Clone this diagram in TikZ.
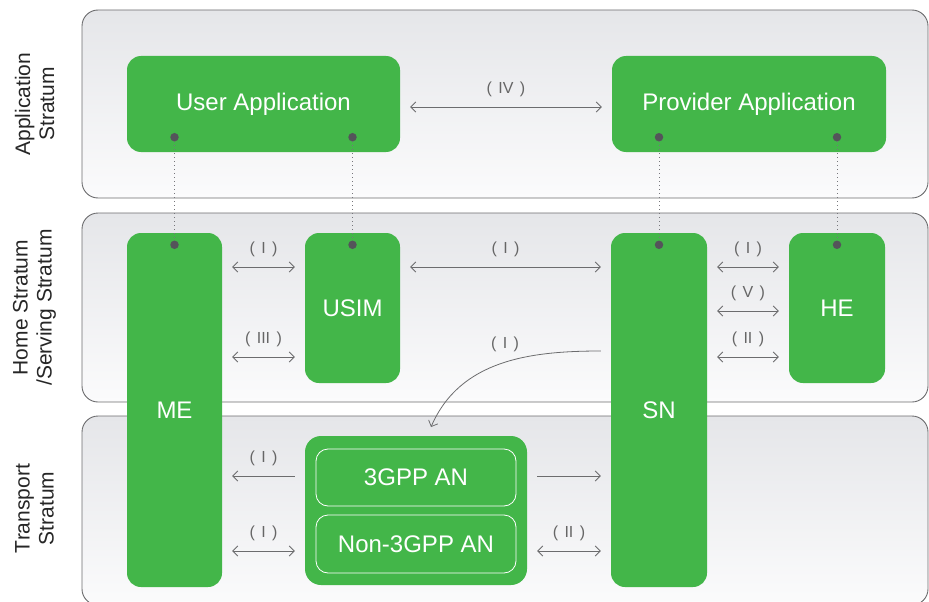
\documentclass[tikz,border=0pt]{standalone}
\usepackage{fontspec}
\setmainfont{Liberation Sans}
\usetikzlibrary{arrows.meta,calc,positioning}
\definecolor{netgreen}{RGB}{67,182,73}
\definecolor{wiregray}{RGB}{108,108,110}
\definecolor{dotgray}{RGB}{84,84,90}
\definecolor{layertop}{RGB}{229,230,233}
\definecolor{layerbot}{RGB}{251,251,252}
\newcommand{\iface}[1]{(\hspace{0.4em}#1\hspace{0.4em})}

\begin{document}
\begin{tikzpicture}[x=1pt, y=-1pt, >={Straight Barb[length=5pt,width=10pt]},
  layer/.style={draw=wiregray, line width=0.9pt, rounded corners=16pt, top color=layertop,
    bottom color=layerbot, minimum width=846pt, inner sep=0pt},
  layername/.style={rotate=90, align=center, font=\fontsize{21}{24}\selectfont, text=black!85},
  unit/.style={fill=netgreen, rounded corners=14pt, text=white, font=\fontsize{24}{28}\selectfont, inner sep=0pt},
  subunit/.style={draw=white, line width=0.8pt, rounded corners=12pt, text=white,
    font=\fontsize{24}{28}\selectfont, minimum width=200pt, minimum height=57pt, inner sep=0pt},
  port/.style={circle, fill=dotgray, inner sep=0pt, minimum size=8.5pt},
  tie/.style={dotgray!80, line width=1pt, dash pattern=on 1.2pt off 2.8pt},
  wire/.style={wiregray, line width=0.8pt, shorten <=10pt, shorten >=10pt},
  tagtext/.style={text=black!60, font=\fontsize{16}{18}\selectfont},
  tag/.style={tagtext, yshift=18pt}]
  \useasboundingbox (0,0) rectangle (929,602);

  % strata
  \node[layer, minimum height=188pt] (app) at (505,104) {};
  \node[layer, minimum height=189pt] (home) at (505,307.5) {};
  \node[layer, minimum height=189pt] (trans) at (505,510.5) {};
  \node[layername] at ($(app.west)+(-47,0)$) {Application\\Stratum};
  \node[layername] at ($(home.west)+(-47,0)$) {Home Stratum\\/Serving Stratum};
  \node[layername] at ($(trans.west)+(-47,-2)$) {Transport\\Stratum};

  % entities
  \node[unit, minimum width=273pt, minimum height=96pt] (user) at (263.5,104) {User Application};
  \node[unit, minimum width=274pt, minimum height=96pt] (prov) at (749,104) {Provider Application};
  \node[unit, minimum width=95pt, minimum height=354pt] (me) at (174.5,410) {ME};
  \node[unit, minimum width=95pt, minimum height=150pt] (usim) at (352.5,308) {USIM};
  \node[unit, minimum width=96pt, minimum height=354pt] (sn) at (659,410) {SN};
  \node[unit, minimum width=96pt, minimum height=150pt] (he) at (837,308) {HE};
  \node[unit, rounded corners=16pt, minimum width=222pt, minimum height=149pt] (an) at (416,510.5) {};
  \node[subunit] (gpp) at (416,477.5) {3GPP AN};
  \node[subunit, minimum height=58pt] (ngpp) at (416,544) {Non-3GPP AN};

  \foreach \u/\l in {me/user, usim/user, sn/prov, he/prov} {
    \coordinate (\u top) at ($(\l.south -| \u.north)+(0,-15)$);
    \coordinate (\u bot) at ($(\u.north)+(0,12)$);
    \draw[tie] (\u top) -- (\u bot);
    \node[port] at (\u top) {};
    \node[port] at (\u bot) {};
  }

  % flows
  \coordinate (rowapp) at (0,107);
  \coordinate (rowa) at (0,267);
  \coordinate (rowb) at (0,311);
  \coordinate (rowc) at (0,357);
  \coordinate (rowd) at (0,476);
  \coordinate (rowe) at (0,551);
  \coordinate (rowf) at (0,351);
  \foreach \a/\b/\r/\t in {user/prov/rowapp/IV, me/usim/rowa/I, me/usim/rowc/III, usim/sn/rowa/I,
      sn/he/rowa/I, sn/he/rowb/V, sn/he/rowc/II, me/an/rowe/I, an/sn/rowe/II}
    \draw[wire, <->] (\a.east |- \r) -- node[tag] {\iface{\t}} (\b.west |- \r);
  \draw[wire, ->] (an.west |- rowd) -- node[tag] {\iface{I}} (me.east |- rowd);
  \draw[wire, ->] (an.east |- rowd) -- (sn.west |- rowd);

  \coordinate (bendend) at (431,427);
  \draw[wire, ->, shorten >=0pt] (sn.west |- rowf) .. controls (530,351) and (460,360) .. (bendend);
  \node[tagtext] (bendtag) at (505,344) {\iface{I}};
\end{tikzpicture}
\end{document}
